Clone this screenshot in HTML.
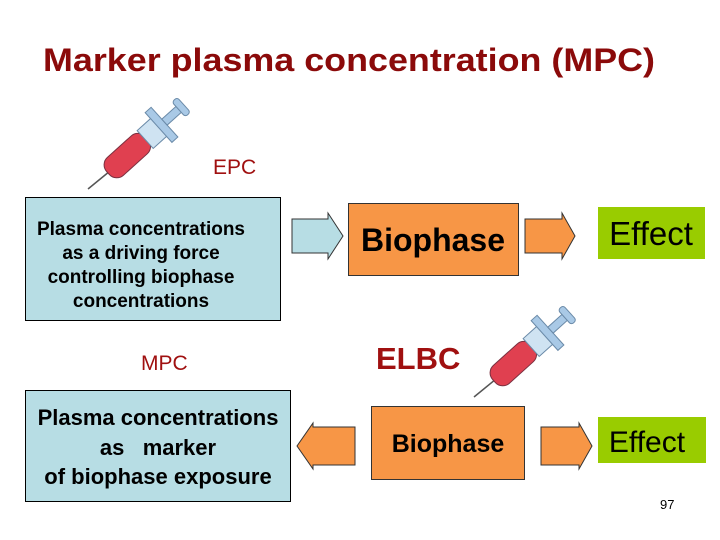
<!DOCTYPE html>
<html><head><meta charset="utf-8"><style>
html,body{margin:0;padding:0;background:#fff;}
svg{display:block;font-family:"Liberation Sans",Arial,sans-serif;}
</style></head><body>
<svg width="720" height="540" viewBox="0 0 720 540" xmlns="http://www.w3.org/2000/svg">
<defs>
<g id="syr">
  <line x1="0" y1="0" x2="22" y2="-18" stroke="#555" stroke-width="1.5"/>
  <g transform="translate(20,-16) rotate(-42)">
    <rect x="0" y="-12" width="52" height="24" rx="10" fill="#e04050" stroke="#7a3040" stroke-width="1"/>
    <rect x="50" y="-12" width="20" height="24" fill="#cfe3f2" stroke="#6a8aa8" stroke-width="1"/>
    <rect x="68" y="-20" width="8" height="40" fill="#a9c9e6" stroke="#6a8aa8" stroke-width="1"/>
    <rect x="76" y="-4" width="20" height="8" fill="#a9c9e6" stroke="#6a8aa8"/>
    <rect x="95" y="-10" width="7" height="20" rx="3" fill="#a9c9e6" stroke="#6a8aa8"/>
  </g>
</g>
</defs>
<text x="43" y="71" font-size="32" font-weight="bold" fill="#8b0a0a" textLength="612" lengthAdjust="spacingAndGlyphs">Marker plasma concentration (MPC)</text>

<use href="#syr" x="88" y="189"/>
<text x="213" y="174" font-size="21" fill="#a01010">EPC</text>

<rect x="25.5" y="197.5" width="255" height="123" fill="#b7dde4" stroke="#000"/>
<g font-size="19" font-weight="bold" text-anchor="middle" fill="#000">
<text x="141" y="235">Plasma concentrations</text>
<text x="141" y="259">as a driving force</text>
<text x="141" y="283">controlling biophase</text>
<text x="141" y="307">concentrations</text>
</g>

<polygon points="292,219 328,219 328,213 343,236 328,259 328,253 292,253" fill="#b7dde4" stroke="#333"/>
<rect x="348.5" y="203.5" width="170" height="72" fill="#f79646" stroke="#333"/>
<text x="433" y="251" font-size="32" font-weight="bold" text-anchor="middle">Biophase</text>
<polygon points="525,219 562,219 562,213 575,236 562,259 562,253 525,253" fill="#f79646" stroke="#333"/>
<rect x="598" y="207" width="107" height="52" fill="#99cc00"/>
<text x="651" y="245" font-size="33" text-anchor="middle">Effect</text>

<text x="141" y="370" font-size="21" fill="#a01010">MPC</text>
<text x="376" y="369" font-size="31" fill="#a01010" font-weight="bold">ELBC</text>
<use href="#syr" x="474" y="397"/>

<rect x="25.5" y="390.5" width="265" height="111" fill="#b7dde4" stroke="#000"/>
<g font-size="22" font-weight="bold" text-anchor="middle">
<text x="158" y="425">Plasma concentrations</text>
<text x="158" y="455" xml:space="preserve">as   marker</text>
<text x="158" y="484">of biophase exposure</text>
</g>

<polygon points="355,427 313,427 313,423 297,446 313,469 313,465 355,465" fill="#f79646" stroke="#333"/>
<rect x="371.5" y="406.5" width="153" height="73" fill="#f79646" stroke="#333"/>
<text x="448" y="452" font-size="25" font-weight="bold" text-anchor="middle">Biophase</text>
<polygon points="541,427 579,427 579,423 592,446 579,469 579,465 541,465" fill="#f79646" stroke="#333"/>
<rect x="598" y="417" width="108" height="46" fill="#99cc00"/>
<text x="647" y="452" font-size="30" text-anchor="middle">Effect</text>

<text x="660" y="509" font-size="13">97</text>
</svg>
</body></html>
